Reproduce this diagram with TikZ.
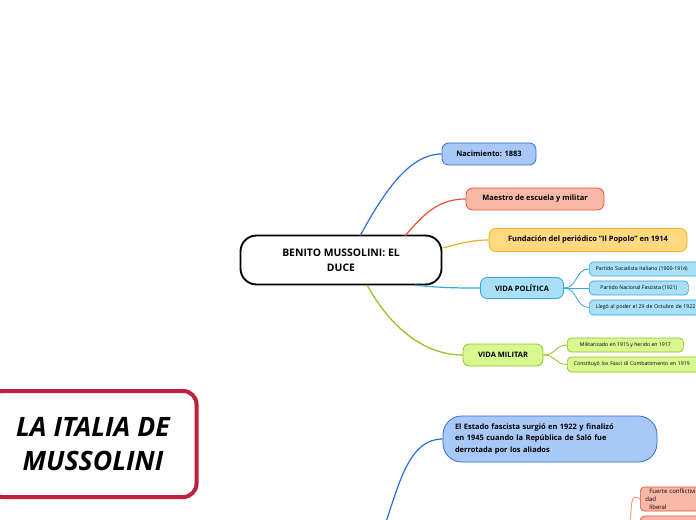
\documentclass[tikz,border=0pt]{standalone}
\usepackage{fontspec}
\setmainfont{Open Sans}
\begin{document}
\begin{tikzpicture}[x=0.75pt,y=-0.75pt,
 box/.style={draw,rounded corners=5pt,line width=0.6pt,inner sep=0pt,font=\bfseries\fontsize{5.6}{7}\selectfont},
 sub/.style={draw,rounded corners=3pt,line width=0.5pt,inner sep=0pt,anchor=west,font=\fontsize{3.9}{5}\selectfont,align=left},
 con/.style={line width=0.9pt}]
\useasboundingbox (0,0) rectangle (696,520);
\clip (0,0) rectangle (696,520);
\fill[white] (0,0) rectangle (696,520);
\definecolor{bA}{HTML}{A8C8F8}\definecolor{bB}{HTML}{2A70D8}
\definecolor{oA}{HTML}{F8B8A8}\definecolor{oB}{HTML}{E85030}
\definecolor{yA}{HTML}{FFD880}\definecolor{yB}{HTML}{F0B020}
\definecolor{cA}{HTML}{A8E0F8}\definecolor{cB}{HTML}{30A8E0}
\definecolor{gA}{HTML}{D8F890}\definecolor{gB}{HTML}{90C020}
\definecolor{rB}{HTML}{C0203A}
\node[draw,line width=1.4pt,rounded corners=12pt,minimum width=201*0.75pt,minimum height=49*0.75pt,align=center,font=\bfseries\fontsize{7.8}{11}\selectfont] (c) at (341,260) {BENITO MUSSOLINI: EL\\DUCE};
\node[box,draw=bB,fill=bA,minimum width=94*0.75pt,minimum height=22*0.75pt] (n1) at (489,154) {Nacimiento: 1883};
\node[box,draw=oB,fill=oA,minimum width=138*0.75pt,minimum height=22*0.75pt] (n2) at (535,199) {Maestro de escuela y militar};
\node[box,draw=yB,fill=yA,minimum width=198*0.75pt,minimum height=23*0.75pt] (n3) at (588,240) {Fundación del periódico "Il Popolo" en 1914};
\node[box,draw=cB,fill=cA,minimum width=83*0.75pt,minimum height=21*0.75pt] (n4) at (522,288) {VIDA POLÍTICA};
\node[box,draw=gB,fill=gA,minimum width=80*0.75pt,minimum height=22*0.75pt] (n5) at (503,355) {VIDA MILITAR};
\node[sub,draw=cB,fill=cA,minimum width=115*0.75pt,minimum height=14*0.75pt,text width=110*0.75pt] (p1) at (589,269) {\hspace{3pt}Partido Socialista Italiano (1900-1914)};
\node[sub,draw=cB,fill=cA,minimum width=99*0.75pt,minimum height=14*0.75pt] (p2) at (589,288) {\hspace{3pt}Partido Nacional Fascista (1921)\hspace{3pt}};
\node[sub,draw=cB,fill=cA,minimum width=125*0.75pt,minimum height=15*0.75pt,text width=120*0.75pt] (p3) at (589,307.5) {\hspace{3pt}Llegó al poder el 29 de Octubre de 1922};
\node[sub,draw=gB,fill=gA,minimum width=116*0.75pt,minimum height=14*0.75pt] (m1) at (567,345) {\hspace{3pt}Militarizado en 1915 y herido en 1917\hspace{3pt}};
\node[sub,draw=gB,fill=gA,minimum width=140*0.75pt,minimum height=15*0.75pt,text width=135*0.75pt] (m2) at (567,364.5) {\hspace{3pt}Constituyó los Fasci di Combattimento en 1919};
\node[draw=bB,fill=bA,line width=0.6pt,rounded corners=14pt,minimum width=214*0.75pt,minimum height=46*0.75pt,text width=190*0.75pt,align=left,font=\bfseries\fontsize{5.6}{8.6}\selectfont] (e) at (550,439) {El Estado fascista surgió en 1922 y finalizó\\en 1945 cuando la República de Saló fue\\derrotada por los aliados};
\node[draw=rB,line width=3pt,rounded corners=10pt,minimum width=207*0.75pt,minimum height=106*0.75pt,align=center,font=\bfseries\itshape\fontsize{20}{26}\selectfont] (t) at (93,444) {LA ITALIA DE\\MUSSOLINI};
\node[sub,draw=oB,fill=oA,minimum width=70*0.75pt,minimum height=24*0.75pt,text width=60*0.75pt,font=\fontsize{4.5}{6}\selectfont] (f1) at (640,499) {\hspace{3pt}Fuerte conflictividad\\\hspace{3pt}liberal};
\node[sub,draw=oB,fill=oA,minimum width=70*0.75pt,minimum height=20*0.75pt] (f2) at (640,526) {};
\coordinate (b1) at (385,525);
\coordinate (b2) at (630,525);
\draw[con,bB] (360,236) .. controls (385,190) and (410,154) .. (n1.west);
\draw[con,oB] (405,236) .. controls (425,212) and (440,199) .. (n2.west);
\draw[con,yB] (c.east|-0,248) .. controls (460,244) and (470,240) .. (n3.west);
\draw[con,cB] (415,285) .. controls (440,288) and (460,288) .. (n4.west);
\draw[con,gB] (367,285) .. controls (395,335) and (430,355) .. (n5.west);
\draw[cB,line width=0.6pt] (n4.east) .. controls (578,288) and (575,269) .. (p1.west);
\draw[cB,line width=0.6pt] (n4.east) -- (p2.west);
\draw[cB,line width=0.6pt] (n4.east) .. controls (578,288) and (575,307.5) .. (p3.west);
\draw[gB,line width=0.6pt] (n5.east) .. controls (556,355) and (555,345) .. (m1.west);
\draw[gB,line width=0.6pt] (n5.east) .. controls (556,355) and (555,364.5) .. (m2.west);
\draw[con,bB] (b1) .. controls (400,480) and (410,439) .. (e.west);
\draw[oB!60,line width=0.7pt] (b2) .. controls (632,505) and (630,492) .. (f1.west);
\end{tikzpicture}
\end{document}
